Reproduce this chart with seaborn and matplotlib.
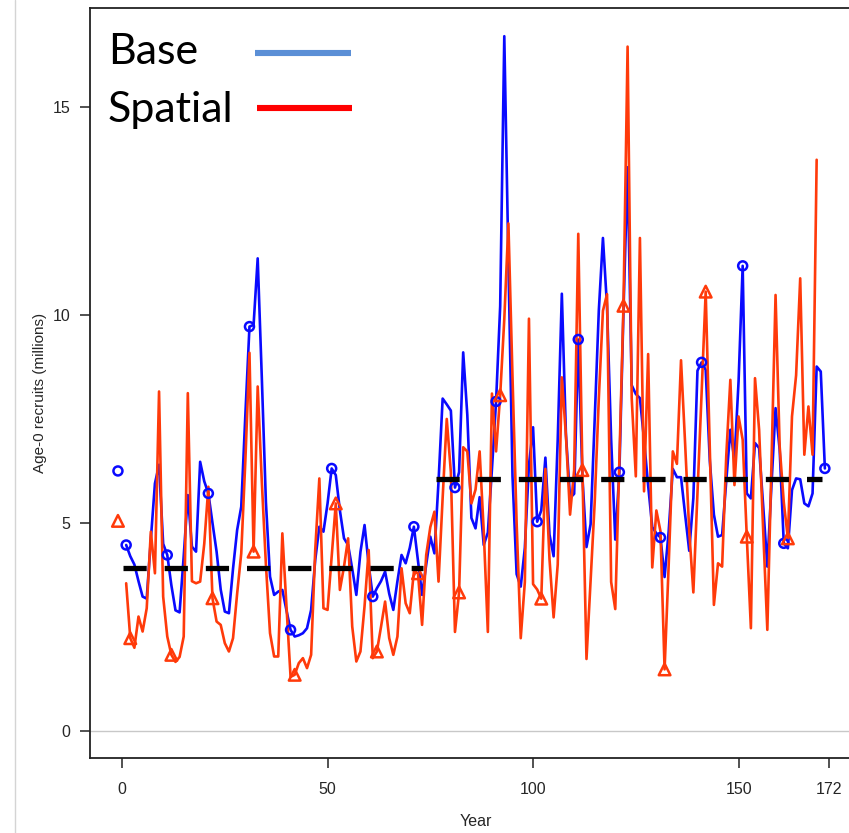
import matplotlib
matplotlib.use("Agg")
import matplotlib.pyplot as plt
import seaborn as sns
from matplotlib.lines import Line2D

# ----------------------------
# 数据
# ----------------------------
base_years = list(range(1, 172))
base_recruits = [
    4.47, 4.20, 4.00, 3.60, 3.23, 3.18, 4.60, 5.95, 6.40, 4.50,
    4.23, 3.50, 2.90, 2.85, 4.20, 5.67, 4.43, 4.31, 6.47, 6.00,
    5.71, 5.00, 4.31, 3.40, 2.87, 2.83, 3.90, 4.83, 5.39, 7.60,
    9.72, 9.76, 11.36, 8.50, 5.50, 3.71, 3.27, 3.35, 3.39, 2.90,
    2.43, 2.27, 2.30, 2.35, 2.47, 2.91, 4.11, 4.91, 4.79, 5.47,
    6.31, 6.15, 5.30, 4.63, 4.47, 3.90, 3.27, 4.30, 4.95, 4.00,
    3.23, 3.43, 3.60, 3.83, 3.30, 2.91, 3.60, 4.23, 4.03, 4.40,
    4.91, 4.10, 3.27, 4.00, 4.67, 4.27, 6.00, 7.99, 7.85, 7.70,
    5.85, 6.22, 9.10, 7.60, 5.12, 4.87, 5.62, 4.47, 4.77, 6.30,
    7.92, 10.21, 16.70, 11.30, 6.12, 3.77, 3.47, 4.40, 6.40, 7.30,
    5.03, 5.30, 6.57, 4.72, 4.20, 7.00, 10.51, 7.12, 5.60, 5.70,
    9.41, 6.12, 4.42, 4.97, 7.50, 10.11, 11.85, 10.20, 7.00, 4.60,
    6.22, 10.10, 13.55, 8.31, 8.10, 8.00, 7.00, 5.90, 4.90, 4.75,
    4.65, 3.70, 4.80, 6.30, 6.10, 6.10, 5.20, 4.33, 5.60, 8.66,
    8.86, 8.68, 6.50, 5.20, 4.67, 4.71, 6.00, 7.24, 6.50, 8.40,
    11.18, 5.71, 5.59, 6.92, 6.80, 5.40, 3.95, 5.90, 7.76, 6.76,
    4.51, 4.39, 5.79, 6.07, 6.05, 5.47, 5.40, 5.71, 8.76, 8.64,
    6.31,
]
spatial_years = list(range(1, 170))
spatial_recruits = [
    3.55, 2.23, 2.00, 2.75, 2.39, 2.95, 4.79, 3.79, 8.16, 3.23,
    2.27, 1.83, 1.66, 1.78, 2.27, 8.12, 3.60, 3.55, 3.59, 4.50,
    5.87, 3.19, 2.63, 2.55, 2.11, 1.91, 2.23, 3.30, 4.27, 6.50,
    9.09, 4.31, 8.28, 6.00, 4.00, 2.35, 1.79, 1.79, 4.75, 3.00,
    1.30, 1.35, 1.63, 1.75, 1.51, 1.83, 4.35, 6.07, 2.95, 2.91,
    4.20, 5.47, 3.39, 3.95, 4.63, 2.51, 1.67, 1.91, 3.00, 4.35,
    1.75, 1.91, 2.50, 3.11, 2.23, 1.83, 2.27, 3.91, 3.07, 2.83,
    3.83, 3.79, 2.55, 4.23, 4.90, 5.27, 3.59, 5.60, 7.50, 6.22,
    2.38, 3.33, 6.82, 6.72, 5.47, 5.80, 6.72, 4.80, 2.38, 8.11,
    6.72, 8.07, 9.90, 12.20, 8.50, 5.00, 2.23, 3.58, 9.91, 3.53,
    3.40, 3.18, 6.30, 4.13, 2.73, 4.00, 8.50, 7.10, 5.20, 6.27,
    11.95, 6.27, 1.73, 3.63, 5.50, 8.00, 10.10, 10.50, 3.58, 2.93,
    6.50, 10.22, 16.45, 8.00, 6.12, 11.85, 5.76, 9.06, 3.93, 5.30,
    4.80, 1.48, 4.00, 6.72, 6.42, 8.91, 6.90, 4.80, 3.33, 5.70,
    8.10, 10.56, 6.80, 3.03, 4.03, 3.95, 6.60, 8.44, 5.91, 7.56,
    7.00, 4.67, 2.47, 8.48, 7.24, 4.80, 2.43, 6.40, 10.48, 6.84,
    5.50, 4.63, 7.56, 8.55, 10.88, 6.64, 7.80, 6.64, 13.73,
]
base_marker_years = list(range(1, 172, 10))
spatial_marker_years = list(range(2, 163, 10))

# 起始（平衡）点，画在第 -1 年
start_year = -1
base_start = 6.25
spatial_start = 5.05

# 两个时期的平均值（黑色虚线）
regime_years = [[0.3, 73.2], [76.4, 170.2]]
regime_means = [3.92, 6.05]

x_ticks = [0, 50, 100, 150, 172]
y_ticks = [0, 5, 10, 15]
legend_labels = ["Base", "Spatial"]

BLUE = "#0a0aff"
RED = "#ff3a0a"
LEG_BLUE = "#5b8fd6"
LEG_RED = "#ff0000"

# ----------------------------
# 绘图
# ----------------------------
sns.set_style("ticks")
plt.rcParams['font.family'] = ['Liberation Sans Narrow', 'Liberation Sans', 'DejaVu Sans']

W, H = 849, 833
fig = plt.figure(figsize=(W / 100, H / 100), dpi=100)
ax = fig.add_axes([90 / W, 75 / H, 762 / W, 750.5 / H])

ax.axhline(0, color="#c8c8c8", lw=1.0, zorder=0)

sns.lineplot(x=base_years, y=base_recruits, color=BLUE, lw=1.9, ax=ax, zorder=2)
sns.lineplot(x=spatial_years, y=spatial_recruits, color=RED, lw=1.9, ax=ax, zorder=3)

base_lookup = dict(zip(base_years, base_recruits))
spat_lookup = dict(zip(spatial_years, spatial_recruits))
bx = [start_year] + base_marker_years
by = [base_start] + [base_lookup[y] for y in base_marker_years]
sx = [start_year] + spatial_marker_years
sy = [spatial_start] + [spat_lookup[y] for y in spatial_marker_years]

sns.scatterplot(x=bx, y=by, marker="o", s=42, facecolor="none",
                edgecolor=BLUE, linewidth=1.8, ax=ax, zorder=4)
sns.scatterplot(x=sx, y=sy, marker="^", s=70, facecolor="none",
                edgecolor=RED, linewidth=1.8, ax=ax, zorder=5)

for xs, m in zip(regime_years, regime_means):
    ax.plot(xs, [m, m], color="black", lw=3.8, dashes=(4.4, 3.4),
            solid_capstyle="butt", dash_capstyle="butt", zorder=6)

ax.set_xlim(-7.8, 177.6)
ax.set_ylim(-0.65, 17.39)
ax.set_xticks(x_ticks)
ax.set_yticks(y_ticks)
ax.tick_params(axis="x", direction="out", length=7, width=1.1, pad=10,
               labelsize=11.5, color="#222222")
ax.tick_params(axis="y", direction="out", length=7, width=1.1, pad=7,
               labelsize=11.5, color="#222222")
for sp in ax.spines.values():
    sp.set_visible(True)
    sp.set_linewidth(1.3)
    sp.set_color("#222222")

ax.set_xlabel("Year", fontsize=11.5)
ax.set_ylabel("Age-0 recruits (millions)", fontsize=11)
ax.xaxis.set_label_coords(0.506, -0.075)
ax.yaxis.set_label_coords(-0.057, 0.487)

# 图例：文字在左，线条在右
leg_font = ['Lato', 'Open Sans', 'DejaVu Sans']
for lab, col, base_y, line_y, x0, x1 in zip(
        legend_labels, [LEG_BLUE, LEG_RED], [64, 122], [52.5, 107.5],
        [255, 257], [351, 352]):
    fig.text(108 / W, 1 - base_y / H, lab, fontsize=31, family=leg_font,
             ha="left", va="baseline", color="black")
    fig.add_artist(Line2D([x0 / W, x1 / W], [1 - line_y / H] * 2,
                          color=col, lw=4.4, solid_capstyle="butt"))

# 左侧浅灰色竖线（原图边框）
fig.add_artist(Line2D([14.5 / W] * 2, [0, 1], color="#d4d4d4", lw=1.0))

fig.savefig("out.png", dpi=100)
